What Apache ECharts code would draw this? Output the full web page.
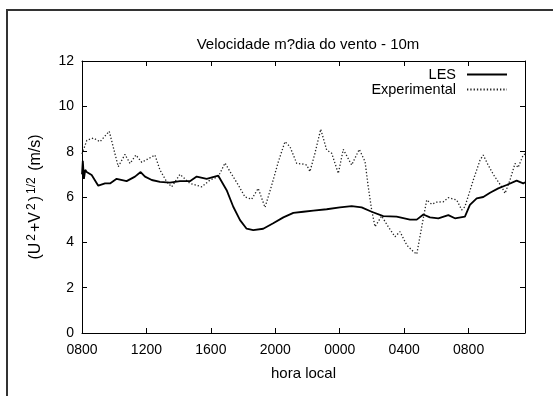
<!DOCTYPE html>
<html>
<head>
<meta charset="utf-8">
<script src="https://cdn.jsdelivr.net/npm/echarts@6/dist/echarts.min.js"></script>
<style>
  html, body { margin: 0; padding: 0; background: #fff; }
  #frame { position: absolute; left: 6px; top: 9px; width: 560px; height: 400px;
           border-top: 2px solid #333; border-left: 2px solid #333; }
  #chart { position: absolute; left: 0; top: 0; width: 553px; height: 396px; }
</style>
</head>
<body>
<div id="frame"></div>
<div id="chart"></div>
<script>
// x = hours since 08:00 local time
var hourLabels = ['0800', '1200', '1600', '2000', '0000', '0400', '0800'];

var lesHours = [0, 0.05, 0.12, 0.2, 0.29, 0.6, 1.01, 1.43, 1.74, 2.15, 2.77, 3.29, 3.64, 3.91,
  4.33, 4.84, 5.46, 6.08, 6.7, 7.12, 7.74, 8.46, 8.98, 9.39, 9.81, 10.22, 10.63, 11.25,
  11.87, 12.5, 13.12, 13.74, 14.36, 15.19, 16.01, 16.74, 17.36, 17.98, 18.7, 19.53, 20.36,
  20.78, 21.19, 21.6, 22.12, 22.74, 23.15, 23.77, 24.08, 24.5, 24.91, 25.33, 25.84, 26.36,
  26.98, 27.39, 27.5];
var lesValues = [7.0, 7.6, 6.8, 7.2, 7.1, 6.97, 6.5, 6.6, 6.6, 6.8, 6.7, 6.9, 7.1, 6.9,
  6.75, 6.67, 6.63, 6.7, 6.7, 6.9, 6.8, 6.94, 6.3, 5.57, 4.98, 4.6, 4.54, 4.6,
  4.84, 5.1, 5.3, 5.35, 5.4, 5.46, 5.54, 5.6, 5.54, 5.35, 5.16, 5.13, 5.0,
  5.0, 5.23, 5.1, 5.06, 5.2, 5.06, 5.13, 5.65, 5.94, 6.0, 6.19, 6.38, 6.53,
  6.72, 6.6, 6.65];

var expHours = [0, 0.3, 0.7, 1.12, 1.69, 2.25, 2.67, 2.98, 3.35, 3.71, 4.53, 4.84, 5.26, 5.57,
  6.08, 6.7, 7.43, 7.95, 8.46, 8.88, 9.19, 9.7, 10.12, 10.53, 10.94, 11.36, 11.78, 12.19,
  12.6, 12.91, 13.33, 13.74, 13.95, 14.15, 14.46, 14.82, 15.19, 15.5, 15.91, 16.22, 16.74,
  17.21, 17.57, 17.77, 17.98, 18.19, 18.6, 19.01, 19.43, 19.74, 20.16, 20.57, 20.78, 21.09,
  21.4, 21.71, 22.02, 22.43, 22.74, 23.26, 23.57, 23.77, 24.29, 24.71, 24.91, 25.22, 25.53,
  26.05, 26.26, 26.57, 26.88, 27.07, 27.39, 27.5];
var expValues = [7.9, 8.5, 8.6, 8.44, 8.9, 7.34, 7.88, 7.48, 7.85, 7.53, 7.85, 7.19, 6.67, 6.45,
  7.0, 6.6, 6.45, 6.75, 6.9, 7.5, 7.12, 6.53, 6.0, 5.9, 6.38, 5.54, 6.53, 7.56,
  8.44, 8.22, 7.48, 7.45, 7.41, 7.12, 7.93, 8.99, 8.07, 7.93, 7.04, 8.1, 7.41,
  8.1, 7.56, 6.45, 5.43, 4.69, 5.16, 4.69, 4.25, 4.47, 3.88, 3.59, 3.48, 4.69,
  5.87, 5.68, 5.77, 5.79, 5.97, 5.87, 5.43, 5.57, 6.75, 7.63, 7.85, 7.4, 7.0,
  6.45, 6.16, 6.75, 7.48, 7.3, 7.85, 7.9];

function pairs(xs, ys) {
  return xs.map(function (x, i) { return [x, ys[i]]; });
}

var font = 'Liberation Sans, Arial, sans-serif';
var axisLine = { onZero: false, lineStyle: { color: '#000', width: 1 } };
var tick = { inside: true, length: 5, lineStyle: { color: '#000' } };

var chart = echarts.init(document.getElementById('chart'), null, { renderer: 'canvas' });

var option = {
  animation: false,
  textStyle: { fontFamily: font, color: '#000' },
  title: {
    text: 'Velocidade m?dia do vento - 10m',
    left: 303,
    top: 32,
    textAlign: 'center',
    textStyle: { fontFamily: font, fontSize: 15, fontWeight: 'normal', color: '#000' }
  },
  legend: {
    orient: 'vertical',
    right: 40,
    top: 62,
    align: 'right',
    itemWidth: 40,
    itemHeight: 14,
    itemGap: 0,
    itemStyle: { opacity: 0 },
    textStyle: { fontFamily: font, fontSize: 14.5, color: '#000', padding: [0, 6, 0, 0] },
    data: ['LES', 'Experimental']
  },
  grid: { left: 82, right: 28, top: 61, bottom: 63, containLabel: false },
  xAxis: [{
    type: 'value',
    min: 0, max: 27.5, interval: 4,
    name: 'hora local',
    nameLocation: 'middle',
    nameGap: 33,
    nameTextStyle: { fontFamily: font, fontSize: 15, color: '#000' },
    axisLine: axisLine,
    axisTick: tick,
    splitLine: { show: false },
    axisLabel: {
      fontFamily: font, fontSize: 14, color: '#000', margin: 10,
      showMaxLabel: false,
      formatter: function (v) {
        var i = v / 4;
        return Number.isInteger(i) && hourLabels[i] ? hourLabels[i] : '';
      }
    }
  }, {
    type: 'value',
    position: 'top',
    min: 0, max: 27.5, interval: 4,
    axisLine: axisLine,
    axisTick: tick,
    axisLabel: { show: false },
    splitLine: { show: false }
  }],
  yAxis: [{
    type: 'value',
    min: 0, max: 12, interval: 2,
    name: '{n|(U}{s|2}{n|+V}{s|2}{n|)}{s|1/2}{n| (m/s)}',
    nameLocation: 'middle',
    nameRotate: 90,
    nameGap: 36,
    nameTextStyle: {
      rich: {
        n: { fontFamily: font, fontSize: 16, color: '#000', padding: [0, 1, 0, 1] },
        s: { fontFamily: font, fontSize: 12, color: '#000', verticalAlign: 'top', padding: [0, 1, 8, 1] }
      }
    },
    axisLine: axisLine,
    axisTick: tick,
    splitLine: { show: false },
    axisLabel: { fontFamily: font, fontSize: 14, color: '#000', margin: 8 }
  }, {
    type: 'value',
    position: 'right',
    min: 0, max: 12, interval: 2,
    axisLine: axisLine,
    axisTick: tick,
    axisLabel: { show: false },
    splitLine: { show: false }
  }],
  series: [{
    name: 'LES',
    type: 'line',
    data: pairs(lesHours, lesValues),
    symbol: 'none',
    smooth: false,
    lineStyle: { color: '#000', width: 1.8 },
    itemStyle: { color: '#000' },
    z: 3
  }, {
    name: 'Experimental',
    type: 'line',
    data: pairs(expHours, expValues),
    symbol: 'none',
    smooth: false,
    lineStyle: { color: '#222', width: 1.3, type: [1.3, 2] },
    itemStyle: { color: '#222' },
    z: 2
  }]
};

chart.setOption(option);
</script>
</body>
</html>
